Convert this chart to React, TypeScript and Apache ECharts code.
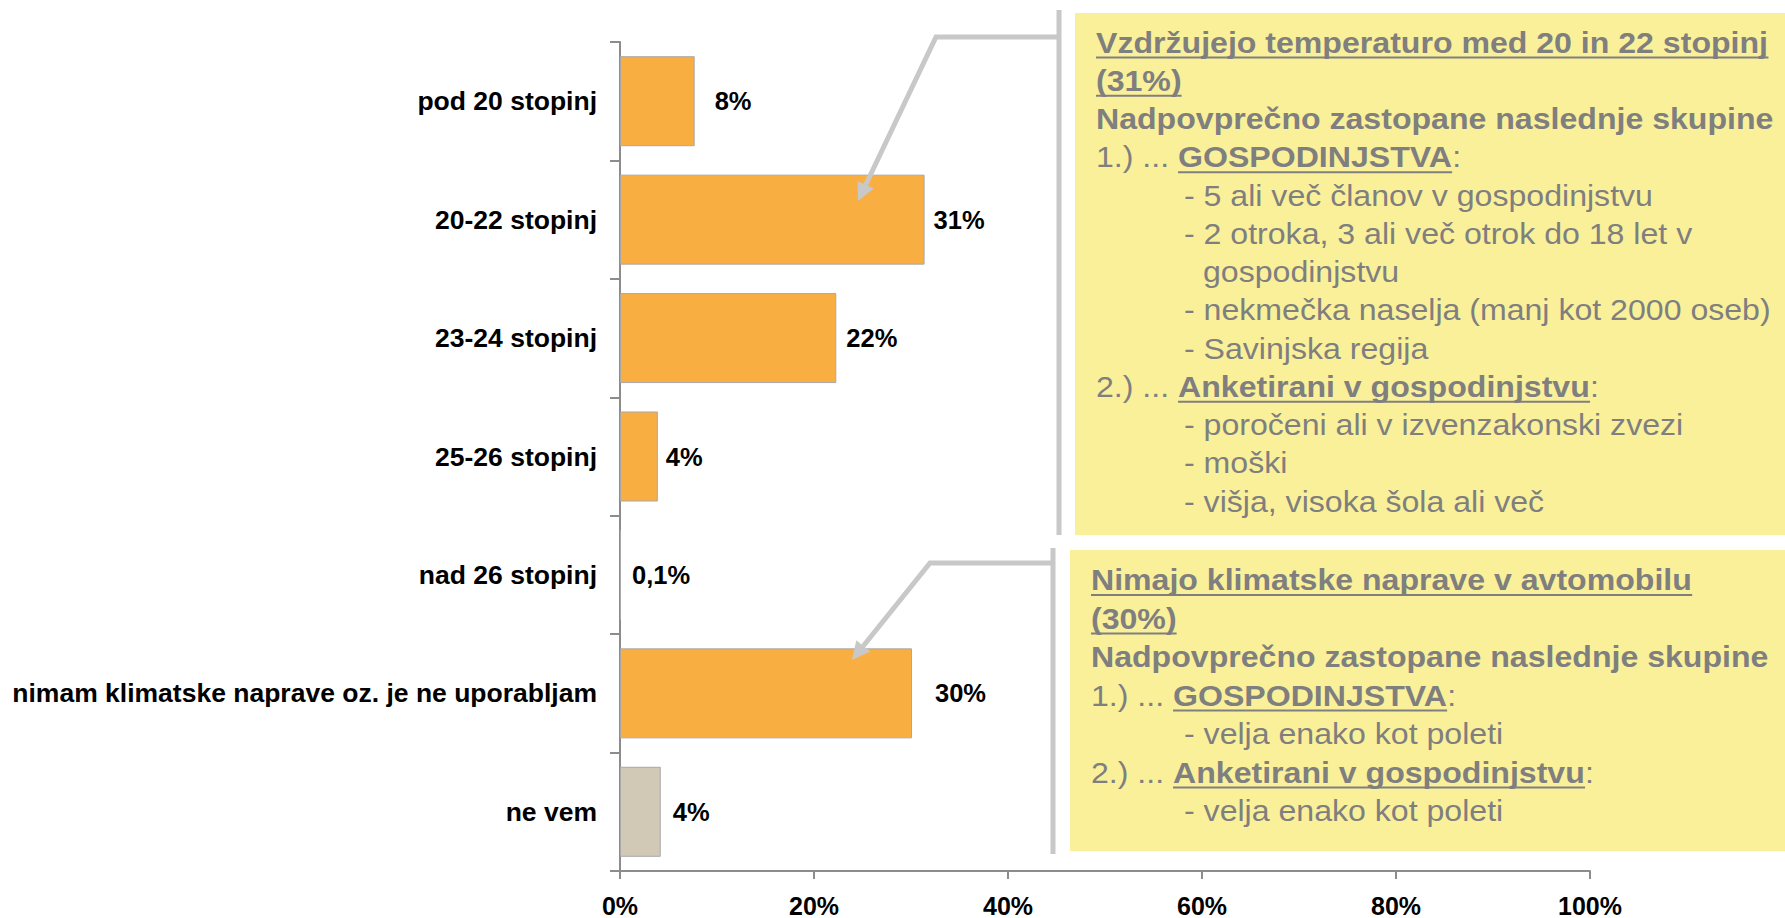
import React, { useEffect, useRef } from "react";
import * as echarts from "echarts";

// ---- data ----
const categories: string[] = [
  "pod 20 stopinj",
  "20-22 stopinj",
  "23-24 stopinj",
  "25-26 stopinj",
  "nad 26 stopinj",
  "nimam klimatske naprave oz. je ne uporabljam",
  "ne vem",
];
const shares: number[] = [7.7, 31.4, 22.3, 3.9, 0.1, 30.1, 4.2];
const axisMin = 0;
const axisMax = 100;
const axisStep = 20;

type Seg = { t: string; b?: boolean; u?: boolean };
type Line = { indent: number; segs: Seg[] };

const box1Lines: Line[] = [
  { indent: 0, segs: [{ t: "Vzdržujejo temperaturo med 20 in 22 stopinj", b: true, u: true }] },
  { indent: 0, segs: [{ t: "(31%)", b: true, u: true }] },
  { indent: 0, segs: [{ t: "Nadpovprečno zastopane naslednje skupine", b: true }] },
  { indent: 0, segs: [{ t: "1.) ... " }, { t: "GOSPODINJSTVA", b: true, u: true }, { t: ":" }] },
  { indent: 1, segs: [{ t: "- 5 ali več članov v gospodinjstvu" }] },
  { indent: 1, segs: [{ t: "- 2 otroka, 3 ali več otrok do 18 let v" }] },
  { indent: 2, segs: [{ t: "gospodinjstvu" }] },
  { indent: 1, segs: [{ t: "- nekmečka naselja (manj kot 2000 oseb)" }] },
  { indent: 1, segs: [{ t: "- Savinjska regija" }] },
  { indent: 0, segs: [{ t: "2.) ... " }, { t: "Anketirani v gospodinjstvu", b: true, u: true }, { t: ":" }] },
  { indent: 1, segs: [{ t: "- poročeni ali v izvenzakonski zvezi" }] },
  { indent: 1, segs: [{ t: "- moški" }] },
  { indent: 1, segs: [{ t: "- višja, visoka šola ali več" }] },
];

const box2Lines: Line[] = [
  { indent: 0, segs: [{ t: "Nimajo klimatske naprave v avtomobilu", b: true, u: true }] },
  { indent: 0, segs: [{ t: "(30%)", b: true, u: true }] },
  { indent: 0, segs: [{ t: "Nadpovprečno zastopane naslednje skupine", b: true }] },
  { indent: 0, segs: [{ t: "1.) ... " }, { t: "GOSPODINJSTVA", b: true, u: true }, { t: ":" }] },
  { indent: 1, segs: [{ t: "- velja enako kot poleti" }] },
  { indent: 0, segs: [{ t: "2.) ... " }, { t: "Anketirani v gospodinjstvu", b: true, u: true }, { t: ":" }] },
  { indent: 1, segs: [{ t: "- velja enako kot poleti" }] },
];

// ---- styles ----
const FONT = '"Liberation Sans", Arial, sans-serif';
const ORANGE = "#F9AE42";
const BEIGE = "#D1C8B6";
const AXIS_GRAY = "#8C8C8C";
const TEXT_GRAY = "#7F7F7F";
const BOX_YELLOW = "#FAF09A";
const CONNECTOR = "#C8C8C8";
const BOX_FS = 30;
const BOX_SX = 1.07;
const LABEL_GAPS = [20, 9, 10, 8, 11, 23, 12];

let measureCtx: CanvasRenderingContext2D | null = null;
function measure(text: string, bold?: boolean): number {
  if (!measureCtx) measureCtx = document.createElement("canvas").getContext("2d");
  if (!measureCtx) return text.length * BOX_FS * 0.5;
  measureCtx.font = `${bold ? "bold " : ""}${BOX_FS}px ${FONT}`;
  return measureCtx.measureText(text).width;
}

function boxText(lines: Line[], xs: number[], y0: number, step: number): any[] {
  const els: any[] = [];
  lines.forEach((line, i) => {
    let x = xs[line.indent];
    const y = y0 + i * step;
    line.segs.forEach((seg) => {
      const w = measure(seg.t, seg.b) * BOX_SX;
      els.push({
        type: "text",
        x,
        y,
        scaleX: BOX_SX,
        z: 20,
        silent: true,
        style: {
          text: seg.t,
          fill: TEXT_GRAY,
          fontSize: BOX_FS,
          fontWeight: seg.b ? "bold" : "normal",
          fontFamily: FONT,
          align: "left",
          verticalAlign: "middle",
        },
      });
      if (seg.u) {
        els.push({
          type: "line",
          z: 20,
          silent: true,
          shape: { x1: x, y1: y + 15, x2: x + w, y2: y + 15 },
          style: { stroke: TEXT_GRAY, lineWidth: 2 },
        });
      }
      x += w;
    });
  });
  return els;
}

function connector(vx: number, vy1: number, vy2: number, hy: number, sx: number, tx: number, ty: number): any[] {
  const dx = tx - sx;
  const dy = ty - hy;
  const L = Math.hypot(dx, dy);
  const ux = dx / L;
  const uy = dy / L;
  const bx = tx - 18 * ux;
  const by = ty - 18 * uy;
  const nx = -uy;
  const ny = ux;
  return [
    {
      type: "line",
      z: 30,
      silent: true,
      shape: { x1: vx, y1: vy1, x2: vx, y2: vy2 },
      style: { stroke: CONNECTOR, lineWidth: 5 },
    },
    {
      type: "polyline",
      z: 30,
      silent: true,
      shape: { points: [[vx, hy], [sx, hy], [bx, by]] },
      style: { stroke: CONNECTOR, lineWidth: 5, fill: null, lineJoin: "miter" },
    },
    {
      type: "polygon",
      z: 30,
      silent: true,
      shape: { points: [[tx, ty], [bx + 9 * nx, by + 9 * ny], [bx - 9 * nx, by - 9 * ny]] },
      style: { fill: CONNECTOR },
    },
  ];
}

function formatShare(v: number): string {
  if (v < 1) return v.toFixed(1).replace(".", ",") + "%";
  return Math.round(v) + "%";
}

export default function App() {
  const ref = useRef<HTMLDivElement>(null);

  useEffect(() => {
    document.body.style.margin = "0";
    if (!ref.current) return;
    const chart = echarts.init(ref.current, undefined, { renderer: "svg" });

    const graphic: any[] = [
      { type: "rect", z: 5, silent: true, shape: { x: 1075, y: 13, width: 710, height: 522 }, style: { fill: BOX_YELLOW } },
      { type: "rect", z: 5, silent: true, shape: { x: 1070, y: 550, width: 715, height: 301 }, style: { fill: BOX_YELLOW } },
      ...connector(1059, 10, 535, 37, 936, 858, 201),
      ...connector(1053, 548, 854, 563, 930, 852, 660),
      ...boxText(box1Lines, [1096, 1184, 1203], 42.5, 38.25),
      ...boxText(box2Lines, [1091, 1184, 1203], 580, 38.5),
    ];

    chart.setOption({
      animation: false,
      backgroundColor: "#ffffff",
      textStyle: { fontFamily: FONT },
      grid: { left: 620, right: 195, top: 42, bottom: 44, containLabel: false },
      xAxis: {
        type: "value",
        min: axisMin,
        max: axisMax,
        interval: axisStep,
        axisLine: { show: true, lineStyle: { color: AXIS_GRAY, width: 2 } },
        axisTick: { show: true, length: 8, lineStyle: { color: AXIS_GRAY, width: 2 } },
        splitLine: { show: false },
        axisLabel: {
          formatter: "{value}%",
          color: "#000",
          fontSize: 25,
          fontWeight: "bold",
          fontFamily: FONT,
          margin: 22,
        },
      },
      yAxis: {
        type: "category",
        data: categories,
        inverse: true,
        axisLine: { show: true, lineStyle: { color: AXIS_GRAY, width: 2 } },
        axisTick: { show: true, length: 10, alignWithLabel: false, lineStyle: { color: AXIS_GRAY, width: 2 } },
        axisLabel: {
          color: "#000",
          fontSize: 26.5,
          fontWeight: "bold",
          fontFamily: FONT,
          margin: 23,
        },
      },
      series: [
        {
          type: "bar",
          barCategoryGap: "24%",
          data: shares.map((v, i) => ({
            value: v,
            label: { distance: LABEL_GAPS[i] },
          })),
          itemStyle: {
            color: (p: any) => (p.name === "ne vem" ? BEIGE : ORANGE),
            borderColor: "#A8A8A8",
            borderWidth: 1,
          },
          label: {
            show: true,
            position: "right",
            color: "#000",
            fontSize: 25.5,
            fontWeight: "bold",
            fontFamily: FONT,
            formatter: (p: any) => formatShare(p.value),
          },
        },
      ],
      graphic,
    });

    return () => chart.dispose();
  }, []);

  return <div ref={ref} style={{ width: 1785, height: 918 }} />;
}
